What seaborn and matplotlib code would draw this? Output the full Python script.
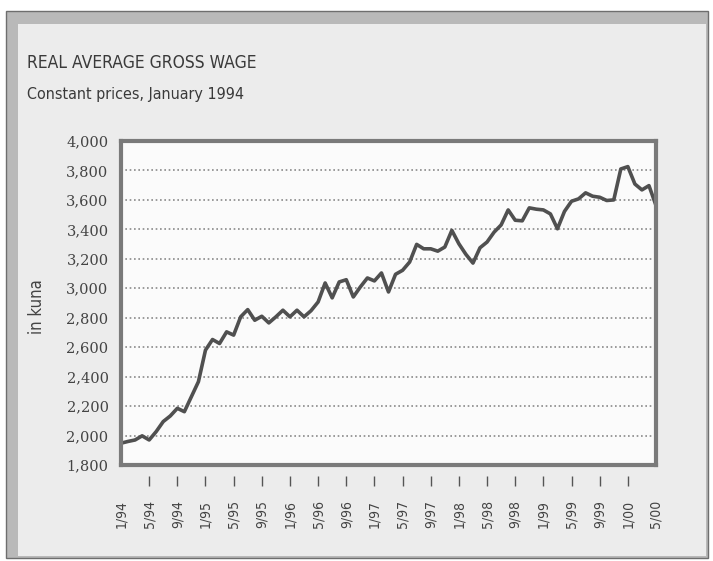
import numpy as np
import pandas as pd
import matplotlib
matplotlib.use('Agg')
import matplotlib.pyplot as plt
from matplotlib.patches import Rectangle
import seaborn as sns

# monthly real average gross wage, 1/94 - 5/00 (kuna, constant prices Jan 1994)
wage = [1948, 1960, 1970, 1998, 1970, 2027, 2095, 2133, 2185, 2162,
        2264, 2366, 2580, 2652, 2625, 2704, 2682, 2806, 2855, 2783,
        2810, 2765, 2806, 2851, 2806, 2851, 2806, 2848, 2907, 3036,
        2935, 3043, 3058, 2941, 3009, 3070, 3050, 3104, 2975, 3095,
        3122, 3178, 3298, 3268, 3268, 3252, 3280, 3393, 3302, 3230,
        3171, 3275, 3314, 3381, 3430, 3532, 3462, 3458, 3546, 3537,
        3532, 3505, 3404, 3522, 3591, 3607, 3648, 3625, 3618, 3596,
        3600, 3810, 3826, 3708, 3668, 3697, 3562]
tick_labels = ['1/94', '5/94', '9/94', '1/95', '5/95', '9/95', '1/96', '5/96',
               '9/96', '1/97', '5/97', '9/97', '1/98', '5/98', '9/98', '1/99',
               '5/99', '9/99', '1/00', '5/00']
y_ticks = [1800, 2000, 2200, 2400, 2600, 2800, 3000, 3200, 3400, 3600, 3800, 4000]

df = pd.DataFrame({'month': np.arange(len(wage)), 'wage': wage})

sns.set_style('white')
W, H = 713, 561
fig = plt.figure(figsize=(W / 100, H / 100), dpi=100)
fig.patch.set_facecolor('white')

# scanned-page frame, drawn on a background axes
bg = fig.add_axes([0, 0, 1, 1], zorder=-1)
bg.set_xlim(0, W)
bg.set_ylim(H, 0)
bg.axis('off')
bg.add_patch(Rectangle((6, 11), 702, 547, facecolor='#b9b9b9', edgecolor='#6e6e6e', lw=1))
bg.add_patch(Rectangle((18, 24), 688, 532, facecolor='#ececec', edgecolor='none'))

narrow = dict(family='DejaVu Sans', stretch='condensed')

ax = fig.add_axes([121 / W, 1 - 465 / H, 535 / W, 324 / H], zorder=1)
ax.set_facecolor('#fbfbfb')

sns.lineplot(data=df, x='month', y='wage', ax=ax, color='#505050', lw=2.6)

ax.set_xlim(0, len(wage) - 1)
ax.set_ylim(1800, 4000)
ax.set_yticks(y_ticks)
ax.set_yticklabels([f'{v:,}' for v in y_ticks], family='DejaVu Serif',
                   fontsize=10.5, color='#444444')
ax.set_xticks(np.arange(0, len(wage), 4))
ax.set_xticklabels(tick_labels, rotation=90, fontsize=10, color='#444444', **narrow)
ax.tick_params(axis='x', length=0, pad=25)
ax.tick_params(axis='y', length=0, pad=9)
ax.set_xlabel('')
ax.set_ylabel('')

ax.grid(axis='y', color='#8a8a8a', linestyle=(0, (1, 1.6)), lw=1.2)
ax.grid(axis='x', visible=False)
for s in ax.spines.values():
    s.set_visible(True)
    s.set_color('#7a7a7a')
    s.set_linewidth(3)

# detached tick marks below the frame
sec = ax.secondary_xaxis(-0.035)
sec.set_xticks(np.arange(4, len(wage) - 1, 4))
sec.tick_params(length=7, width=1, color='#555555', labelbottom=False, direction='out')
sec.spines['bottom'].set_visible(False)

fig.text(37 / W, 1 - 307 / H, 'in kuna', rotation=90, ha='center', va='center',
         fontsize=12, color='#444444', **narrow)
fig.text(27 / W, 1 - 68 / H, 'REAL AVERAGE GROSS WAGE', ha='left', va='baseline',
         fontsize=12.5, color='#3a3a3a', **narrow)
fig.text(27 / W, 1 - 99 / H, 'Constant prices, January 1994', ha='left', va='baseline',
         fontsize=11.5, color='#3a3a3a', **narrow)

fig.savefig('out.png', dpi=100)
